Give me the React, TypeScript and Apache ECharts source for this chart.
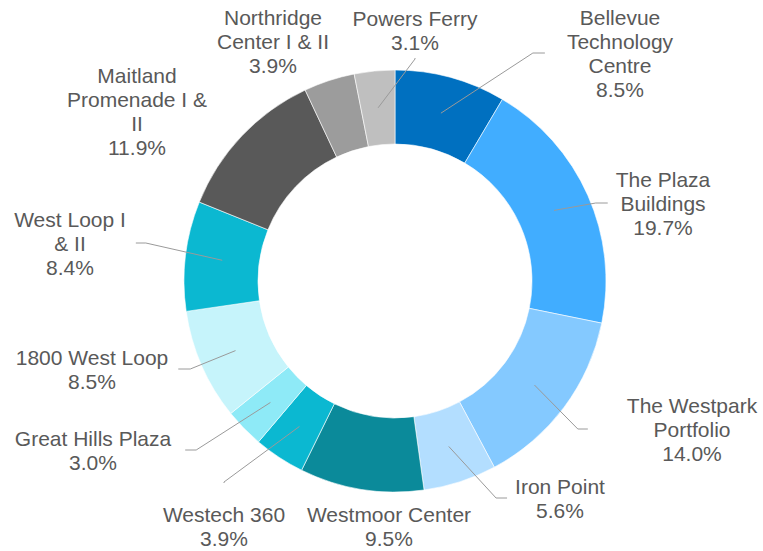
import React, { useEffect, useRef } from "react";
import * as echarts from "echarts";

// ---- data ----
const categories = [
  "Bellevue\nTechnology\nCentre",
  "The Plaza\nBuildings",
  "The Westpark\nPortfolio",
  "Iron Point",
  "Westmoor Center",
  "Westech 360",
  "Great Hills Plaza",
  "1800 West Loop",
  "West Loop I\n& II",
  "Maitland\nPromenade I &\nII",
  "Northridge\nCenter I & II",
  "Powers Ferry",
];
const shares = [8.5, 19.7, 14.0, 5.6, 9.5, 3.9, 3.0, 8.5, 8.4, 11.9, 3.9, 3.1];

// ---- styles / layout ----
const colors = [
  "#0070C0", "#41ADFF", "#84C9FF", "#B3DEFF", "#0B8A9A", "#0BB8D1",
  "#8EEAF7", "#C6F4FB", "#0BB8D1", "#595959", "#9C9C9C", "#BFBFBF",
];
const showLine = [true, true, true, true, false, true, true, true, true, false, false, true];
const labelCenters = [
  [620, 53], [663, 203], [692, 429], [560, 498], [389, 526], [224, 526],
  [93, 450], [92, 369], [70, 243], [137, 111], [273, 41], [415, 30],
];
const labelPads: any[] = [
  [0, 22, 0, 22], [0, 8, 0, 8], [0, 39, 0, 39], [0, 8, 0, 8], 0, [19, 0, 19, 0],
  [0, 14, 0, 14], [0, 10, 0, 10], [0, 10, 0, 10], 0, 0, [4, 0, 4, 0],
];
const segLen = [12, 12, 10, 11, 1, 1, 11, 12, 10, 1, 1, 1];

const CENTER = [395, 281];

export default function App() {
  const ref = useRef<HTMLDivElement>(null);
  useEffect(() => {
    if (!ref.current) return;
    const chart = echarts.init(ref.current, null, { renderer: "svg" });
    const ringData = categories.map((c, i) => ({
      name: c,
      value: shares[i],
      itemStyle: { color: colors[i] },
    }));
    const labelData = categories.map((c, i) => ({
      name: c,
      value: shares[i],
      label: { padding: labelPads[i] },
      labelLine: { show: showLine[i], length2: segLen[i] },
    }));
    chart.setOption({
      animation: false,
      series: [
        {
          type: "pie",
          radius: [137, 211],
          center: CENTER,
          startAngle: 90,
          clockwise: true,
          silent: true,
          avoidLabelOverlap: false,
          label: { show: false },
          labelLine: { show: false },
          itemStyle: { borderColor: "#ffffff", borderWidth: 0.6 },
          data: ringData,
        },
        {
          type: "pie",
          radius: [0, 174],
          center: CENTER,
          startAngle: 90,
          clockwise: true,
          silent: true,
          z: 5,
          avoidLabelOverlap: false,
          itemStyle: { color: "rgba(0,0,0,0)", borderWidth: 0 },
          label: {
            show: true,
            position: "outside",
            formatter: (p: any) => p.name + "\n" + Number(p.value).toFixed(1) + "%",
            color: "#595959",
            fontSize: 21,
            lineHeight: 24,
            fontFamily: "'Liberation Sans', Arial, sans-serif",
            align: "center",
          },
          labelLine: {
            show: true,
            length: 5,
            length2: 12,
            lineStyle: { color: "#9a9a9a", width: 1 },
          },
          labelLayout: (params: any) => {
            const p = labelCenters[params.dataIndex];
            return { x: p[0], y: p[1], align: "center", verticalAlign: "middle" };
          },
          data: labelData,
        },
      ],
    });
    return () => chart.dispose();
  }, []);
  return (
    <div
      ref={ref}
      style={{ position: "absolute", left: 0, top: 0, width: 763, height: 551, background: "#fff" }}
    />
  );
}
